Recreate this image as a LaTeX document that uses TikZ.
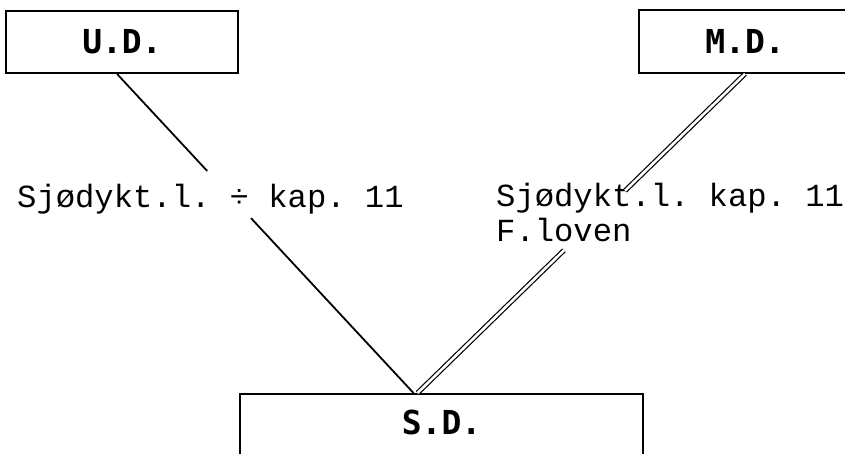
\documentclass[tikz,border=0pt]{standalone}
\usepackage{fontspec}
\usetikzlibrary{calc}
\newfontfamily\labmono{Liberation Mono}
\newfontfamily\boxmono{DejaVu Sans Mono}
\frenchspacing
\begin{document}
\begin{tikzpicture}[x=1pt,y=-1pt,
  dbox/.style={draw, line width=1.8pt, inner sep=0pt,
    font=\boxmono\bfseries\fontsize{33}{36}\selectfont},
  lawtext/.style={inner sep=0pt, anchor=base west,
    font=\labmono\frenchspacing\fontsize{32.2}{35}\selectfont},
  single/.style={line width=1.8pt},
  twin/.style={line width=1.2pt, double=white, double distance=2.6pt}]
\useasboundingbox (0,0) rectangle (845,454);
\clip (0,0) rectangle (845,454);
\fill[white] (0,0) rectangle (845,454);
% boxes
\node[dbox, minimum width=232pt, minimum height=62pt] (ud) at (122,42) {U.D.\hspace{20pt}};
\node[dbox, minimum width=212pt, minimum height=63pt] (md) at (745,41.5) {M.D.};
\node[dbox, anchor=north, minimum width=403pt, text height=22pt, text depth=70pt, inner ysep=19pt] (sd) at (441.5,393) {S.D.};
% labels
\node[lawtext] (l1) at (17,208) {Sjødykt.l. ÷ kap. 11};
\node[lawtext] (l2) at (496,207) {Sjødykt.l. kap. 11};
\node[lawtext] (l3) at (496,242) {F.loven};
% connection points
\coordinate (udout) at ($(ud.south)+(-5,0)$);
\coordinate (sdinL) at ($(sd.north)+(-28,0)$);
\coordinate (mdout) at (md.south);
\coordinate (sdinR) at ($(sd.north)+(-24,0)$);
% left single line, broken at the label
\draw[single] (udout) -- ($(udout)!0.304!(sdinL)$);
\draw[single] ($(udout)!0.452!(sdinL)$) -- (sdinL);
% right double line, broken at the label
\draw[twin] (mdout) -- ($(mdout)!0.366!(sdinR)$);
\draw[twin] ($(mdout)!0.553!(sdinR)$) -- (sdinR);
\end{tikzpicture}
\end{document}
